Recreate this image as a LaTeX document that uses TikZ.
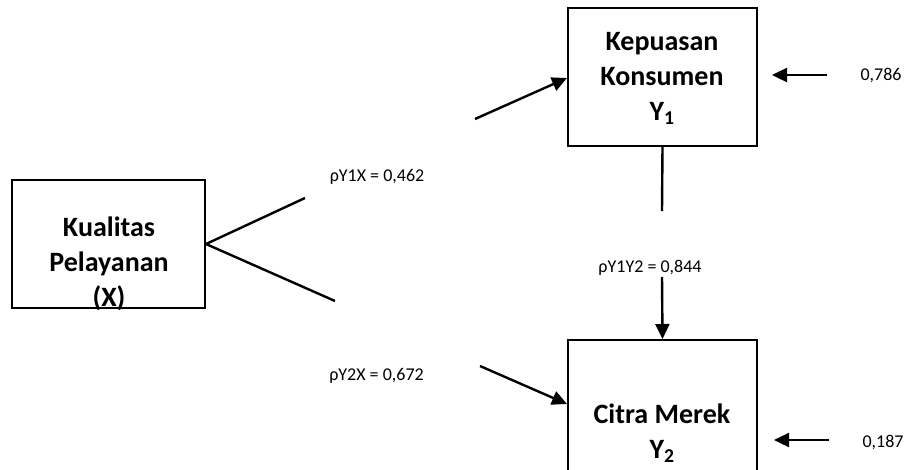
\documentclass[tikz,border=0pt]{standalone}
\usepackage{fontspec}
\setmainfont{Carlito}
\usetikzlibrary{arrows.meta}
\begin{document}
\begin{tikzpicture}[x=1pt,y=-1pt,
  box/.style={draw,line width=2pt,inner sep=0pt},
  boxtext/.style={font=\fontsize{28}{35}\selectfont\bfseries,align=center,inner sep=0pt},
  lbl/.style={font=\fontsize{18}{22}\selectfont,inner sep=0pt},
  conn/.style={line width=2.4pt},
  arr/.style={line width=2.4pt,-{Triangle[length=15pt,width=14pt]}}]
\useasboundingbox (0,0) rectangle (911,469);
% boxes
\node[box,minimum width=193pt,minimum height=128pt] (X) at (108.5,244) {};
\node[box,minimum width=189pt,minimum height=138pt] (Y1) at (662.5,77) {};
\node[box,minimum width=189pt,minimum height=136pt] (Y2) at (662.5,408) {};
% box texts
\node[boxtext] (tX) at (109,264) {Kualitas\\Pelayanan\\(X)};
\node[boxtext] (tY1) at (662,78) {Kepuasan\\Konsumen\\Y\textsubscript{1}};
\node[boxtext] (tY2) at (662,433) {Citra Merek\\Y\textsubscript{2}};
% coordinates for gaps
\coordinate (a1) at (305,198);
\coordinate (a2) at (475,119);
\coordinate (b1) at (335,301);
\coordinate (b2) at (480,366);
\coordinate (c1) at (662,211);
\coordinate (c2) at (662,276);
\coordinate (e1s) at (827,75);
\coordinate (e2s) at (829,440);
% connectors
\draw[conn] (X.east) -- (a1);
\draw[arr] (a2) -- (Y1.west |- 0,78);
\draw[conn] (X.east) -- (b1);
\draw[arr] (b2) -- (Y2.west |- 0,404);
\draw[conn] (Y1.south) -- (c1);
\draw[arr] (c2) -- (Y2.north);
\draw[arr] (e1s) -- ([xshift=14pt]Y1.east |- e1s);
\draw[arr] (e2s) -- ([xshift=16pt]Y2.east |- e2s);
% labels
\node[lbl] (l1) at (377,177) {ρY1X = 0,462};
\node[lbl] (l2) at (376.5,376) {ρY2X = 0,672};
\node[lbl,fill=white,inner sep=1pt] (l3) at (650,268) {ρY1Y2 = 0,844};
\node[lbl] (e1) at (881,76) {0,786};
\node[lbl] (e2) at (883,442) {0,187};
\end{tikzpicture}
\end{document}
